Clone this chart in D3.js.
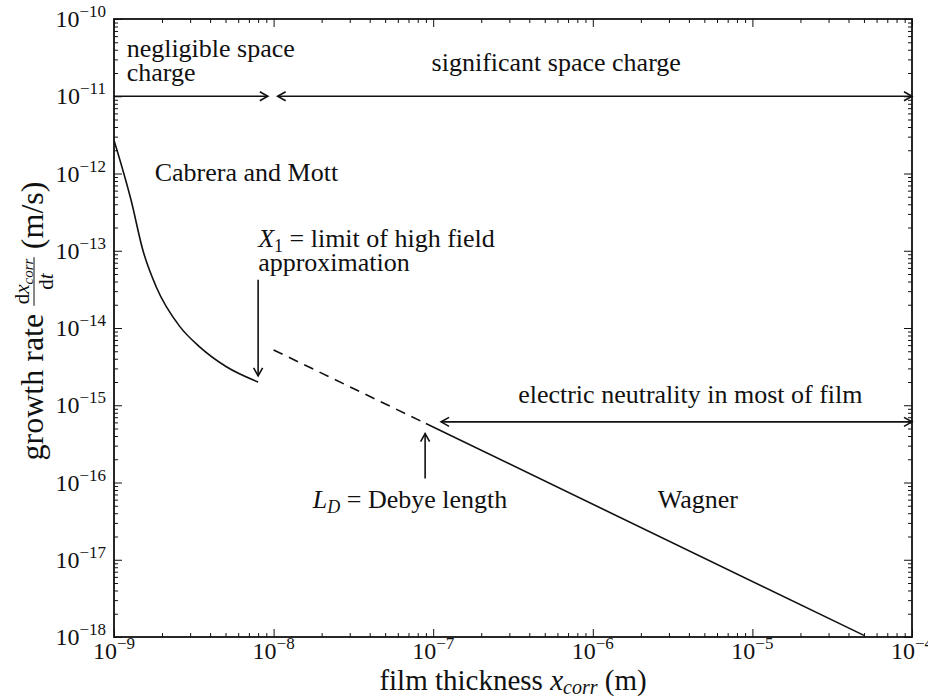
<!DOCTYPE html>
<html>
<head>
<meta charset="utf-8">
<script src="https://cdn.jsdelivr.net/npm/d3@7"></script>
<style>
  body { margin: 0; background: #fff; }
  text { font-family: "Liberation Serif", "Times New Roman", serif; fill: #111; }
</style>
</head>
<body>
<div id="chart"></div>
<script>
// chart data
var xTickExps = [-9, -8, -7, -6, -5, -4];
var yTickExps = [-18, -17, -16, -15, -14, -13, -12, -11, -10];

// Cabrera and Mott curve (solid)
var cabreraX = [1.0e-9, 1.28e-9, 1.52e-9, 1.84e-9, 2.58e-9, 3.44e-9, 5.06e-9, 8.0e-9];
var cabreraY = [2.7e-12, 4.5e-13, 1.0e-13, 3.4e-14, 1.05e-14, 5.7e-15, 3.15e-15, 2.0e-15];

// dashed extrapolation between X1 and LD
var dashX = [1.0e-8, 9.0e-8];
var dashY = [5.2e-15, 5.8e-16];

// Wagner line (solid)
var wagnerX = [9.0e-8, 5.0e-5];
var wagnerY = [5.8e-16, 1.05e-18];

// horizontal range arrows: x start, x end, y
var rangeArrowX1 = [1.0e-9, 1.06e-8, 1.12e-7];
var rangeArrowX2 = [9.2e-9, 1.0e-4, 1.0e-4];
var rangeArrowY = [1.0e-11, 1.0e-11, 6.1e-16];
var rangeArrowStartHead = [false, true, true];

// vertical pointer arrows: x, y tail, y tip
var pointerX = [8.0e-9, 8.9e-8];
var pointerY1 = [4.2e-14, 1.13e-16];
var pointerY2 = [2.4e-15, 4.3e-16];

var width = 928;
var height = 700;
var margin = {left: 114, right: 16, top: 19, bottom: 63};
var svg, xScale, yScale;

document.addEventListener('DOMContentLoaded', function () {
    svg = d3.select("#chart").append("svg")
        .attr("width", width)
        .attr("height", height);

    xScale = d3.scaleLog().domain([1e-9, 1e-4]).range([margin.left, width - margin.right]);
    yScale = d3.scaleLog().domain([1e-18, 1e-10]).range([height - margin.bottom, margin.top]);

    var defs = svg.append("defs");
    defs.append("marker")
        .attr("id", "head")
        .attr("viewBox", "-10 -6 12 12")
        .attr("refX", 0).attr("refY", 0)
        .attr("markerWidth", 12).attr("markerHeight", 12)
        .attr("markerUnits", "userSpaceOnUse")
        .attr("orient", "auto-start-reverse")
        .append("path")
        .attr("d", "M-8,-4.5 L0,0 L-8,4.5")
        .attr("fill", "none").attr("stroke", "#111").attr("stroke-width", 1.6);

    defs.append("clipPath").attr("id", "plotclip")
        .append("rect")
        .attr("x", xScale.range()[0]).attr("y", yScale.range()[1])
        .attr("width", xScale.range()[1] - xScale.range()[0])
        .attr("height", yScale.range()[0] - yScale.range()[1]);

    drawAxes();
    drawCurves();
    drawAnnotations();
});

function minorTicks(lo, hi) {
    var out = [];
    for (var e = lo; e < hi; e++) {
        for (var m = 2; m <= 9; m++) out.push(m * Math.pow(10, e));
    }
    return out;
}

function drawAxes() {
    var xMajor = xTickExps.map(e => Math.pow(10, e));
    var yMajor = yTickExps.map(e => Math.pow(10, e));
    var xMinor = minorTicks(-9, -4);
    var yMinor = minorTicks(-18, -10);
    var x0 = xScale.range()[0], x1 = xScale.range()[1];
    var y0 = yScale.range()[0], y1 = yScale.range()[1];

    var axes = [
        {ax: d3.axisBottom(xScale), t: "translate(0," + y0 + ")", maj: xMajor, min: xMinor},
        {ax: d3.axisTop(xScale), t: "translate(0," + y1 + ")", maj: xMajor, min: xMinor},
        {ax: d3.axisLeft(yScale), t: "translate(" + x0 + ",0)", maj: yMajor, min: yMinor},
        {ax: d3.axisRight(yScale), t: "translate(" + x1 + ",0)", maj: yMajor, min: yMinor}
    ];
    axes.forEach(function (a) {
        [[a.maj, 8], [a.min, 4]].forEach(function (p) {
            var g = svg.append("g").attr("transform", a.t)
                .call(a.ax.tickValues(p[0]).tickSize(-p[1]).tickSizeOuter(0).tickFormat(""));
            g.select(".domain").remove();
            g.selectAll("line").attr("stroke", "#111").attr("stroke-width", 1);
        });
    });

    svg.append("rect")
        .attr("x", x0).attr("y", y1)
        .attr("width", x1 - x0).attr("height", y0 - y1)
        .attr("fill", "none").attr("stroke", "#111").attr("stroke-width", 1.8);

    // tick labels as 10^n
    xTickExps.forEach(function (e) {
        var t = svg.append("text")
            .attr("x", xScale(Math.pow(10, e))).attr("y", y0 + 22)
            .attr("text-anchor", "middle").style("font-size", "24px");
        t.append("tspan").text("10");
        t.append("tspan").attr("dy", -10).style("font-size", "17px").text("\u2212" + Math.abs(e));
    });
    yTickExps.forEach(function (e) {
        var t = svg.append("text")
            .attr("x", x0 - 8).attr("y", yScale(Math.pow(10, e)) + 8)
            .attr("text-anchor", "end").style("font-size", "24px");
        t.append("tspan").text("10");
        t.append("tspan").attr("dy", -10).style("font-size", "17px").text("\u2212" + Math.abs(e));
    });

    // x axis title
    var xt = svg.append("text")
        .attr("x", (x0 + x1) / 2).attr("y", 690)
        .attr("text-anchor", "middle").style("font-size", "29px");
    xt.append("tspan").text("film thickness ");
    xt.append("tspan").style("font-style", "italic").text("x");
    xt.append("tspan").attr("dy", 4).style("font-size", "20px").style("font-style", "italic").text("corr");
    xt.append("tspan").attr("dy", -4).text(" (m)");

    // y axis title with a fraction, laid out in a rotated group
    var yg = svg.append("g")
        .attr("transform", "translate(43,321) rotate(-90)");
    var part1 = yg.append("text").style("font-size", "32px").text("growth rate");
    var num = yg.append("text").attr("text-anchor", "middle").style("font-size", "21px");
    num.append("tspan").text("d");
    num.append("tspan").style("font-style", "italic").text("x");
    num.append("tspan").attr("dy", 4).style("font-size", "15px").style("font-style", "italic").text("corr");
    var den = yg.append("text").attr("text-anchor", "middle").style("font-size", "21px");
    den.append("tspan").text("d");
    den.append("tspan").style("font-style", "italic").text("t");
    var part3 = yg.append("text").style("font-size", "32px").text("(m/s)");

    var gap = 8;
    var w1 = part1.node().getComputedTextLength();
    var wf = Math.max(num.node().getComputedTextLength(), den.node().getComputedTextLength()) + 3;
    var w3 = part3.node().getComputedTextLength();
    var total = w1 + gap + wf + gap + w3;
    var sx = -total / 2;
    part1.attr("x", sx).attr("y", 0);
    var fc = sx + w1 + gap + wf / 2;
    num.attr("x", fc).attr("y", -14);
    den.attr("x", fc).attr("y", 10);
    yg.append("line")
        .attr("x1", fc - wf / 2).attr("x2", fc + wf / 2)
        .attr("y1", -9).attr("y2", -9)
        .attr("stroke", "#111").attr("stroke-width", 1);
    part3.attr("x", sx + w1 + gap + wf + gap).attr("y", 0);
}

function drawCurves() {
    var line = d3.line()
        .x(d => xScale(d[0]))
        .y(d => yScale(d[1]));
    var plot = svg.append("g").attr("clip-path", "url(#plotclip)");

    plot.append("path")
        .datum(cabreraX.map((x, i) => [x, cabreraY[i]]))
        .attr("d", line.curve(d3.curveMonotoneX))
        .attr("fill", "none").attr("stroke", "#111").attr("stroke-width", 1.6);

    plot.append("path")
        .datum(dashX.map((x, i) => [x, dashY[i]]))
        .attr("d", line.curve(d3.curveLinear))
        .attr("fill", "none").attr("stroke", "#111").attr("stroke-width", 1.6)
        .attr("stroke-dasharray", "10,7");

    plot.append("path")
        .datum(wagnerX.map((x, i) => [x, wagnerY[i]]))
        .attr("d", line.curve(d3.curveLinear))
        .attr("fill", "none").attr("stroke", "#111").attr("stroke-width", 1.6);
}

function drawAnnotations() {
    rangeArrowX1.forEach(function (x1, i) {
        var l = svg.append("line")
            .attr("x1", xScale(x1)).attr("x2", xScale(rangeArrowX2[i]))
            .attr("y1", yScale(rangeArrowY[i])).attr("y2", yScale(rangeArrowY[i]))
            .attr("stroke", "#111").attr("stroke-width", 1.6)
            .attr("marker-end", "url(#head)");
        if (rangeArrowStartHead[i]) l.attr("marker-start", "url(#head)");
    });
    pointerX.forEach(function (x, i) {
        svg.append("line")
            .attr("x1", xScale(x)).attr("x2", xScale(x))
            .attr("y1", yScale(pointerY1[i])).attr("y2", yScale(pointerY2[i]))
            .attr("stroke", "#111").attr("stroke-width", 1.6)
            .attr("marker-end", "url(#head)");
    });

    // one text element per label; lines is a list of tspan-part lists
    function label(x, y, anchor, lines) {
        var t = svg.append("text")
            .attr("x", xScale(x)).attr("y", yScale(y))
            .attr("text-anchor", anchor).style("font-size", "26px");
        lines.forEach(function (parts, li) {
            parts.forEach(function (p, pi) {
                var s = t.append("tspan").text(p.s);
                if (li > 0 && pi === 0) s.attr("x", xScale(x)).attr("dy", 24);
                if (p.i) s.style("font-style", "italic");
                if (p.sub) s.attr("dy", 5).style("font-size", "18px");
                if (p.up) s.attr("dy", -5);
            });
        });
        return t;
    }

    label(1.2e-9, 3.2e-11, "start", [[{s: "negligible space"}], [{s: "charge"}]]);
    label(5.9e-7, 2.1e-11, "middle", [[{s: "significant space charge"}]]);
    label(1.8e-9, 8.0e-13, "start", [[{s: "Cabrera and Mott"}]]);
    label(8.0e-9, 1.13e-13, "start", [
        [{s: "X", i: true}, {s: "1", sub: true}, {s: " = limit of high field", up: true}],
        [{s: "approximation"}]
    ]);
    label(4.9e-5, 1.07e-15, "end", [[{s: "electric neutrality in most of film"}]]);
    label(1.76e-8, 4.7e-17, "start", [[{s: "L", i: true}, {s: "D", i: true, sub: true}, {s: " = Debye length", up: true}]]);
    label(2.55e-6, 4.7e-17, "start", [[{s: "Wagner"}]]);
}
</script>
</body>
</html>
